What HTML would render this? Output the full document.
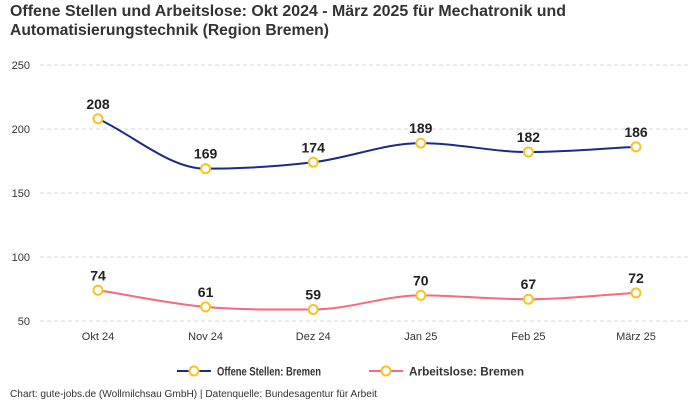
<!DOCTYPE html>
<html><head><meta charset="utf-8">
<style>
body{margin:0;background:#fff;font-family:"Liberation Sans",sans-serif;}
#wrap{position:relative;width:700px;height:400px;overflow:hidden;}
</style></head>
<body>
<div id="wrap">
<svg id="chart" width="700" height="400" xmlns="http://www.w3.org/2000/svg">
<text x="10" y="16" font-size="15.5" font-weight="bold" fill="#333" textLength="556" lengthAdjust="spacingAndGlyphs">Offene Stellen und Arbeitslose: Okt 2024 - März 2025 für Mechatronik und</text>
<text x="10" y="35" font-size="15.5" font-weight="bold" fill="#333" textLength="319" lengthAdjust="spacingAndGlyphs">Automatisierungstechnik (Region Bremen)</text>
<g id="grid"></g><g id="xaxis"></g><g id="series"></g>
<g>
<g>
<line x1="177" y1="371" x2="211" y2="371" stroke="#1a2b8c" stroke-width="2"/>
<circle cx="194" cy="371" r="4.5" fill="#fff" stroke="#f7c325" stroke-width="2"/>
<text x="217" y="375.5" font-size="12" font-weight="bold" fill="#333" textLength="104" lengthAdjust="spacingAndGlyphs">Offene Stellen: Bremen</text></g>
<g>
<line x1="369" y1="371" x2="403" y2="371" stroke="#f56a7f" stroke-width="2"/>
<circle cx="386" cy="371" r="4.5" fill="#fff" stroke="#f7c325" stroke-width="2"/>
<text x="409" y="375.5" font-size="12" font-weight="bold" fill="#333" textLength="115" lengthAdjust="spacingAndGlyphs">Arbeitslose: Bremen</text></g>
</g>
<text x="10" y="397" font-size="10" fill="#333" textLength="367" lengthAdjust="spacingAndGlyphs">Chart: gute-jobs.de (Wollmilchsau GmbH) | Datenquelle: Bundesagentur für Arbeit</text>
</svg>
</div>
<script>
const categories=["Okt 24","Nov 24","Dez 24","Jan 25","Feb 25","März 25"];
const offeneStellen=[208,169,174,189,182,186];
const arbeitslose=[74,61,59,70,67,72];
const yTicks=[50,100,150,200,250];
const NS="http://www.w3.org/2000/svg";
const x0=98,xStep=107.6;
function xs(i){return x0+i*xStep;}
function ys(v){return 321-(v-50)*64/50;}
function mk(tag,attrs,parent){const e=document.createElementNS(NS,tag);for(const k in attrs)e.setAttribute(k,attrs[k]);parent.appendChild(e);return e;}
const grid=document.getElementById('grid');
yTicks.forEach(t=>{
 const l=mk('line',{x1:40,x2:690,y1:ys(t),y2:ys(t),stroke:'#d4d4d4','stroke-dasharray':'4,3'},grid);
 
 
 const tx=mk('text',{x:30,y:ys(t)+4,'font-size':11,fill:'#333','text-anchor':'end'},grid);
 tx.textContent=t;
 
 
});
const xa=document.getElementById('xaxis');
categories.forEach((c,i)=>{
 const tx=mk('text',{x:xs(i),y:340,'font-size':11,fill:'#333','text-anchor':'middle'},xa);
 tx.textContent=c;
 
 
});
function smooth(pts){
 const n=pts.length;const dx=[],m=[],s=[];
 for(let i=0;i<n-1;i++){dx.push(pts[i+1][0]-pts[i][0]);s.push((pts[i+1][1]-pts[i][1])/dx[i]);}
 m[0]=s[0];m[n-1]=s[n-2];
 for(let i=1;i<n-1;i++){m[i]=(s[i-1]*s[i]<=0)?0:(s[i-1]+s[i])/2;}
 let d='M'+pts[0][0]+','+pts[0][1];
 for(let i=0;i<n-1;i++){const h=dx[i]/3;
  d+=' C'+(pts[i][0]+h)+','+(pts[i][1]+m[i]*h)+' '+(pts[i+1][0]-h)+','+(pts[i+1][1]-m[i+1]*h)+' '+pts[i+1][0]+','+pts[i+1][1];}
 return d;
}
const sg=document.getElementById('series');
function drawSeries(vals,color,name){
 const g=mk('g',{},sg);
 
 
 const pts=vals.map((v,i)=>[xs(i),ys(v)]);
 const p=mk('path',{d:smooth(pts),fill:'none',stroke:color,'stroke-width':2},g);
 
 
 vals.forEach((v,i)=>{
  const c=mk('circle',{cx:xs(i),cy:ys(v),r:4.5,fill:'#fff',stroke:'#f7c325','stroke-width':2},g);
  
  
  const t=mk('text',{x:xs(i),y:ys(v)-10,'font-size':14,'font-weight':'bold',fill:'#222','text-anchor':'middle'},g);
  t.textContent=v;
  
  
 });
}
drawSeries(offeneStellen,'#1a2b8c','offene-stellen');
drawSeries(arbeitslose,'#f56a7f','arbeitslose');
</script>
</body></html>
